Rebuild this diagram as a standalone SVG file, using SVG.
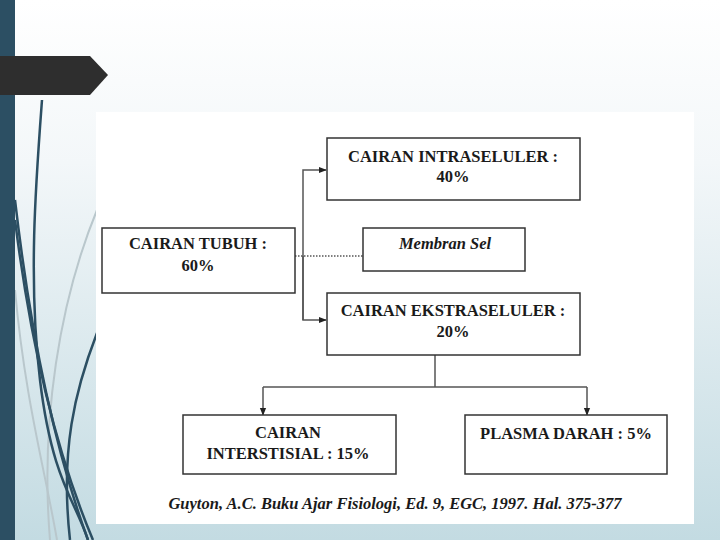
<svg xmlns="http://www.w3.org/2000/svg" width="720" height="540" viewBox="0 0 720 540">
<defs>
<linearGradient id="bg" x1="0" y1="0" x2="0" y2="1">
<stop offset="0" stop-color="#ffffff"/>
<stop offset="0.3" stop-color="#f3f7f9"/>
<stop offset="1" stop-color="#c3dbe2"/>
</linearGradient>
<marker id="ah" viewBox="0 0 10 10" refX="9" refY="5" markerWidth="8" markerHeight="8" markerUnits="userSpaceOnUse" orient="auto">
<path d="M0,1 L10,5 L0,9 z" fill="#222"/>
</marker>
<style>
.box{fill:#fff;stroke:#333;stroke-width:1.5}
.t{font-family:"Liberation Serif","Times New Roman",serif;font-weight:bold;font-size:16.5px;fill:#1a1a1a;text-anchor:middle}
.i{font-style:italic}
.ln{fill:none;stroke:#555;stroke-width:1.5}
.curve{fill:none;stroke:#2c4f63;stroke-width:2.5}
.lcurve{fill:none;stroke:#b9c7cc;stroke-width:2}
</style>
</defs>
<rect x="0" y="0" width="720" height="540" fill="url(#bg)"/>
<g id="decor">
<path class="lcurve" d="M97,210 C60,300 40,420 50,540"/>
<path class="lcurve" d="M15,290 C25,400 45,470 57,540"/>
<path class="curve" d="M42,100 C36,180 28,280 40,380 S75,500 88,540"/>
<path class="curve" d="M15,200 C30,330 55,450 88,540"/>
<path class="curve" d="M15,220 C30,340 55,450 93,540"/>
<path class="curve" d="M97,333 C75,390 60,450 70,540"/>
<rect x="0" y="0" width="15" height="540" fill="#2c4f63"/>
<path d="M0,56 L90,56 L108,75 L90,95 L0,95 z" fill="#2e2e2e"/>
<rect x="96" y="112" width="598" height="412" fill="#fff"/>
</g>
<g id="connectors">
<line class="ln" x1="295" y1="256" x2="363" y2="256" stroke-dasharray="1.5,1.5" stroke="#999"/>
<path class="ln" d="M303,320 L303,170 L326,170" marker-end="url(#ah)"/>
<path class="ln" d="M303,256 L303,320 L326,320" marker-end="url(#ah)"/>
<path class="ln" d="M435,355 L435,387"/>
<path class="ln" d="M263,387 L587,387"/>
<path class="ln" d="M263,387 L263,415" marker-end="url(#ah)"/>
<path class="ln" d="M587,387 L587,415" marker-end="url(#ah)"/>
</g>
<g id="tubuh">
<rect class="box" x="102" y="228" width="193" height="65"/>
<text class="t" x="198" y="249">CAIRAN TUBUH :</text>
<text class="t" x="198" y="271">60%</text>
</g>
<g id="intra">
<rect class="box" x="327" y="138" width="253" height="62"/>
<text class="t" x="453" y="162">CAIRAN INTRASELULER :</text>
<text class="t" x="453" y="182">40%</text>
</g>
<g id="membran">
<rect class="box" x="363" y="228" width="162" height="43"/>
<text class="t i" x="445" y="249">Membran Sel</text>
</g>
<g id="ekstra">
<rect class="box" x="327" y="293" width="253" height="62"/>
<text class="t" x="453" y="316">CAIRAN EKSTRASELULER :</text>
<text class="t" x="453" y="337">20%</text>
</g>
<g id="interstisial">
<rect class="box" x="183" y="415" width="213" height="59"/>
<text class="t" x="288" y="438">CAIRAN</text>
<text class="t" x="288" y="459">INTERSTISIAL : 15%</text>
</g>
<g id="plasma">
<rect class="box" x="465" y="415" width="202" height="59"/>
<text class="t" x="566" y="439">PLASMA DARAH : 5%</text>
</g>
<text class="t i" x="395" y="509" font-size="17">Guyton, A.C. Buku Ajar Fisiologi, Ed. 9, EGC, 1997. Hal. 375-377</text>
</svg>
